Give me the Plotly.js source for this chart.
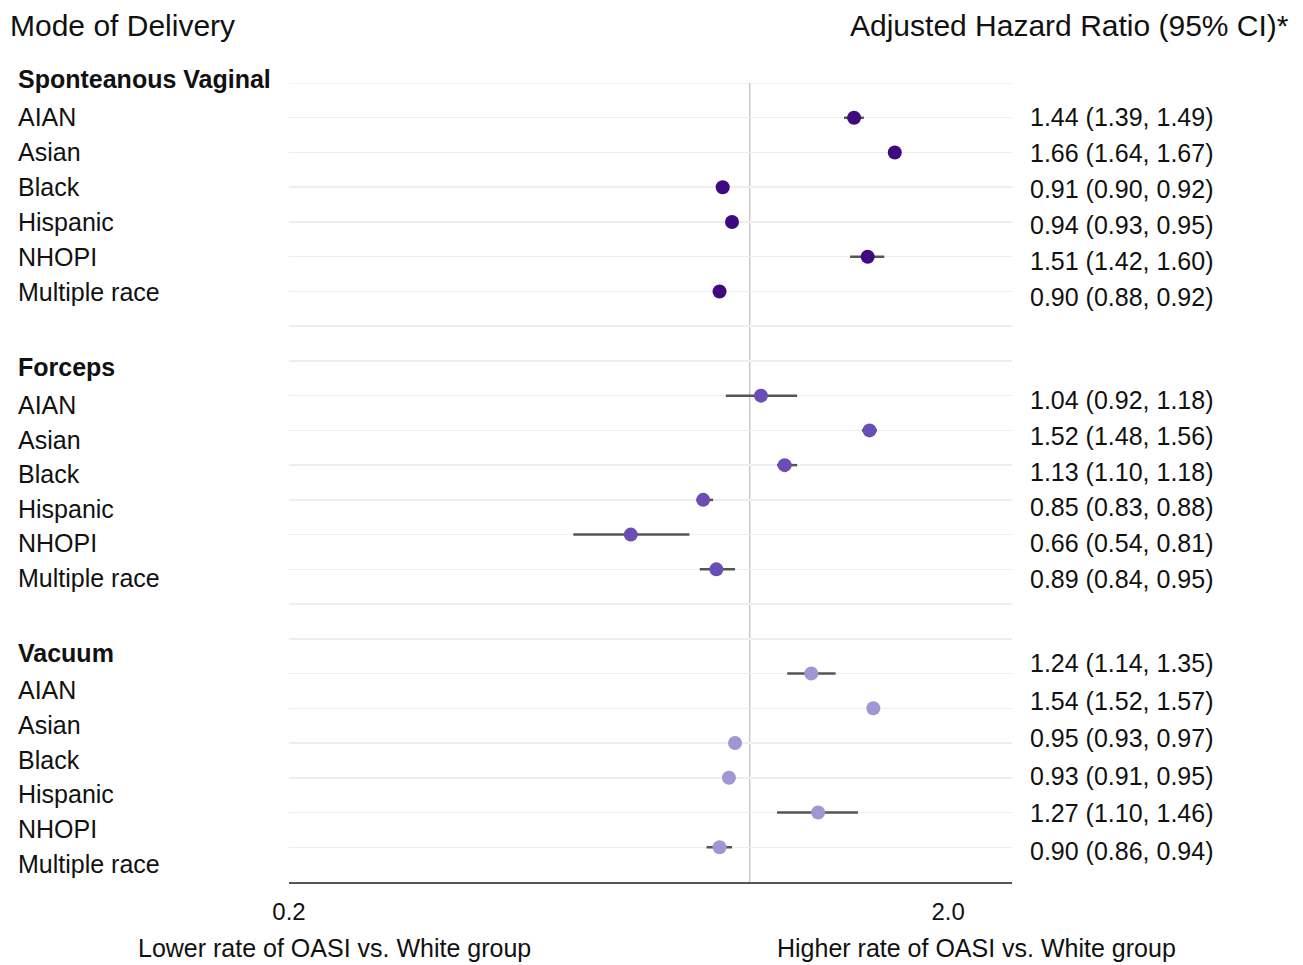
<!DOCTYPE html>
<html>
<head>
<meta charset="utf-8">
<script src="https://cdn.plot.ly/plotly-3.0.1.min.js"></script>
<style>
  html, body { margin: 0; padding: 0; background: #ffffff; }
  #chart { width: 1303px; height: 965px; }
</style>
</head>
<body>
<div id="chart"></div>
<script>
// ---------- data ----------
const sections = ['Sponteanous Vaginal', 'Forceps', 'Vacuum'];
const races = ['AIAN', 'Asian', 'Black', 'Hispanic', 'NHOPI', 'Multiple race'];

const hrSV = [1.44, 1.66, 0.91, 0.94, 1.51, 0.90];
const loSV = [1.39, 1.64, 0.90, 0.93, 1.42, 0.88];
const hiSV = [1.49, 1.67, 0.92, 0.95, 1.60, 0.92];

const hrF = [1.04, 1.52, 1.13, 0.85, 0.66, 0.89];
const loF = [0.92, 1.48, 1.10, 0.83, 0.54, 0.84];
const hiF = [1.18, 1.56, 1.18, 0.88, 0.81, 0.95];

const hrV = [1.24, 1.54, 0.95, 0.93, 1.27, 0.90];
const loV = [1.14, 1.52, 0.93, 0.91, 1.10, 0.86];
const hiV = [1.35, 1.57, 0.97, 0.95, 1.46, 0.94];

const xTickVals = [0.2, 2.0];
const xTickText = ['0.2', '2.0'];

const leftHeader = 'Mode of Delivery';
const rightHeader = 'Adjusted Hazard Ratio (95% CI)*';
const lowerLabel = 'Lower rate of OASI vs. White group';
const higherLabel = 'Higher rate of OASI vs. White group';

// ---------- styling / layout constants ----------
const W = 1303, H = 965;
const M = { l: 289, r: 291, t: 83, b: 83 };
const plotH = H - M.t - M.b;
const pw = W - M.l - M.r;
const py = px => (H - M.b - px) / plotH;        // pixel y -> paper y
const pxX = px => (px - M.l) / pw;              // pixel x -> paper x
const FONT = 'Liberation Sans, Arial, Helvetica, sans-serif';
const colors = ['#3f0a80', '#6a4db5', '#9f97d4'];
const rowsPerSection = 8;
const nRows = rowsPerSection * sections.length - 1; // 23 rows (0..22)

// text placement (pixel y of first label in each block and step)
const headerPx = [79, 367, 653];
const leftStartPx = [117, 405, 690];
const leftStepPx = [35, 34.6, 34.8];
const rightStartPx = [117, 400, 663];
const rightStepPx = [36, 35.8, 37.6];

const series = [
  { hr: hrSV, lo: loSV, hi: hiSV },
  { hr: hrF, lo: loF, hi: hiF },
  { hr: hrV, lo: loV, hi: hiV }
];

const traces = [];
const annotations = [];

series.forEach((s, si) => {
  const ys = races.map((r, ri) => si * rowsPerSection + 1 + ri);
  traces.push({
    type: 'scatter',
    mode: 'markers',
    x: s.hr,
    y: ys,
    marker: { color: colors[si], size: 14 },
    error_x: {
      type: 'data',
      symmetric: false,
      array: s.hi.map((h, i) => h - s.hr[i]),
      arrayminus: s.lo.map((l, i) => s.hr[i] - l),
      color: '#555555',
      thickness: 2.5,
      width: 0
    },
    hoverinfo: 'skip',
    showlegend: false
  });

  annotations.push({
    xref: 'paper', yref: 'paper',
    x: pxX(16), y: py(headerPx[si]),
    xanchor: 'left', yanchor: 'middle',
    text: '<b>' + sections[si] + '</b>',
    showarrow: false,
    font: { family: FONT, size: 25, color: '#111111' }
  });

  races.forEach((r, ri) => {
    annotations.push({
      xref: 'paper', yref: 'paper',
      x: pxX(16), y: py(leftStartPx[si] + ri * leftStepPx[si]),
      xanchor: 'left', yanchor: 'middle',
      text: r,
      showarrow: false,
      font: { family: FONT, size: 25, color: '#111111' }
    });
    annotations.push({
      xref: 'paper', yref: 'paper',
      x: pxX(1028), y: py(rightStartPx[si] + ri * rightStepPx[si]),
      xanchor: 'left', yanchor: 'middle',
      text: s.hr[ri].toFixed(2) + ' (' + s.lo[ri].toFixed(2) + ', ' + s.hi[ri].toFixed(2) + ')',
      showarrow: false,
      font: { family: FONT, size: 25, color: '#111111' }
    });
  });
});

annotations.push(
  { xref: 'paper', yref: 'paper', x: pxX(8), y: py(26), xanchor: 'left', yanchor: 'middle',
    text: leftHeader, showarrow: false, font: { family: FONT, size: 30, color: '#111111' } },
  { xref: 'paper', yref: 'paper', x: pxX(1291), y: py(26), xanchor: 'right', yanchor: 'middle',
    text: rightHeader, showarrow: false, font: { family: FONT, size: 30, color: '#111111' } },
  { xref: 'paper', yref: 'paper', x: pxX(334), y: py(948), xanchor: 'center', yanchor: 'middle',
    text: lowerLabel, showarrow: false, font: { family: FONT, size: 25, color: '#111111' } },
  { xref: 'paper', yref: 'paper', x: pxX(976), y: py(948), xanchor: 'center', yanchor: 'middle',
    text: higherLabel, showarrow: false, font: { family: FONT, size: 25, color: '#111111' } }
);

const layout = {
  width: W, height: H,
  margin: M,
  paper_bgcolor: '#ffffff',
  plot_bgcolor: '#ffffff',
  showlegend: false,
  font: { family: FONT, size: 25, color: '#111111' },
  xaxis: {
    type: 'log',
    range: [Math.log10(0.2), Math.log10(2.5)],
    tickvals: xTickVals,
    ticktext: xTickText,
    ticks: '',
    ticklabelstandoff: 7,
    tickfont: { family: FONT, size: 24, color: '#111111' },
    showgrid: false,
    zeroline: false,
    showline: true,
    linecolor: '#555555',
    linewidth: 2,
    fixedrange: true
  },
  yaxis: {
    range: [nRows, 0],
    tick0: 0,
    dtick: 1,
    showgrid: true,
    gridcolor: '#eeeeee',
    gridwidth: 1.5,
    showticklabels: false,
    ticks: '',
    zeroline: false,
    showline: false,
    fixedrange: true
  },
  shapes: [
    { type: 'line', xref: 'paper', yref: 'y', x0: 0, x1: 1, y0: 0, y1: 0,
      line: { color: '#eeeeee', width: 1.5 }, layer: 'below' },
    { type: 'line', xref: 'x', yref: 'paper', x0: 1, x1: 1, y0: 0, y1: 1,
      line: { color: '#c8c8c8', width: 1.5 }, layer: 'below' }
  ],
  annotations: annotations
};

Plotly.newPlot('chart', traces, layout, { displayModeBar: false, staticPlot: true });
</script>
</body>
</html>
